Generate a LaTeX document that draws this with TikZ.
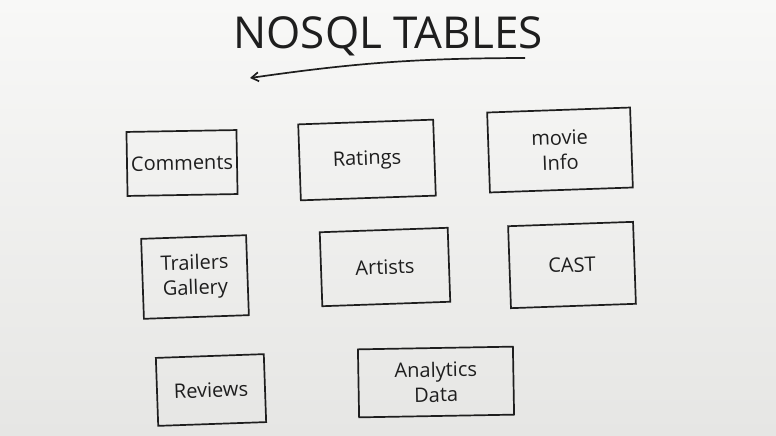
\documentclass[tikz,border=0pt]{standalone}
\usepackage{fontspec}
\setmainfont{Open Sans}
\usetikzlibrary{arrows.meta}
\definecolor{ink}{HTML}{1E1E1E}
\definecolor{boardtop}{HTML}{F8F8F7}
\definecolor{boardbot}{HTML}{E6E6E4}
\begin{document}
\begin{tikzpicture}[x=1pt, y=-1pt,
    tablebox/.style={draw=ink, line width=1.7pt, inner sep=2pt, align=center,
        text=ink, font=\fontsize{20}{25}\selectfont}]
    \shade[top color=boardtop, bottom color=boardbot] (0,0) rectangle (776,436);
    \useasboundingbox (0,0) rectangle (776,436);
    % title and underline
    \node[text=ink, font=\fontsize{44}{50}\selectfont] (title) at (388,36) {NOSQL TABLES};
    \coordinate (ulright) at (525,58);
    \coordinate (ulleft) at (250,78);
    \draw[ink, line width=1.7pt, -{Straight Barb[length=7pt, width=9pt]}] (ulright) to[bend right=4] (ulleft);
    % first row
    \node[tablebox, minimum width=110, minimum height=64, rotate=1] (comments) at (182,163) {Comments};
    \node[tablebox, minimum width=135, minimum height=76, rotate=2] (ratings) at (367,160) {Ratings};
    \node[tablebox, minimum width=143, minimum height=80, rotate=2] (movieinfo) at (560,150) {movie\\Info};
    % second row
    \node[tablebox, minimum width=105, minimum height=80, rotate=2] (trailers) at (195,277) {Trailers\\Gallery};
    \node[tablebox, minimum width=128, minimum height=74, rotate=2] (artists) at (385,267) {Artists};
    \node[tablebox, minimum width=125, minimum height=82, rotate=2] (cast) at (572,265) {CAST};
    % third row
    \node[tablebox, minimum width=108, minimum height=68, rotate=2] (reviews) at (211,390) {Reviews};
    \node[tablebox, minimum width=155, minimum height=68, rotate=1] (analytics) at (436,382) {Analytics\\Data};
\end{tikzpicture}
\end{document}
